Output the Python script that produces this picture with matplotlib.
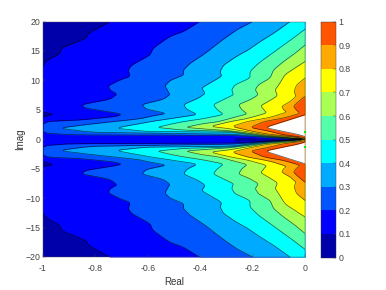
import matplotlib
matplotlib.use('Agg')
import matplotlib.pyplot as plt
from matplotlib.colors import ListedColormap, BoundaryNorm
from matplotlib.cm import ScalarMappable
import numpy as np

plt.rcParams['font.family'] = ['Liberation Sans', 'DejaVu Sans']

# Colour bands, one for each 0.1 step
band_colors = ['#0000aa', '#0000ff', '#0055ff', '#00aaff', '#00ffff',
               '#55ffaa', '#aaff55', '#ffff00', '#ffaa00', '#ff5500']
levels = [0.0, 0.1, 0.2, 0.3, 0.4, 0.5, 0.6, 0.7, 0.8, 0.9, 1.0]
level_labels = ['0', '0.1', '0.2', '0.3', '0.4', '0.5', '0.6', '0.7', '0.8', '0.9', '1']

# Level crossings: the plot is mirrored about Imag = 0
imag_01 = [0, 3.6, 3.8, 4.3, 4.6, 4.8, 13, 14.6, 15.5, 17.2, 18, 20]
real_01 = [-1.05, -1.05, -1, -0.96, -1, -1.05, -1, -0.935, -0.93, -0.834, -0.827, -0.745]

imag_02 = [0, 0.15, 0.3, 0.5, 0.65, 0.76, 3.0, 3.3, 3.9, 4.3, 5.3, 5.9, 6.8, 7.7, 8.4, 9.1, 10.1, 10.7, 11.8, 12.6, 14.3, 15.5, 17.5, 18.3, 20]
real_02 = [0, -0.082, -0.145, -0.21, -0.286, -1, -1, -0.85, -0.72, -0.70, -0.84, -0.853, -0.745, -0.717, -0.745, -0.751, -0.706, -0.668, -0.675, -0.662, -0.592, -0.58, -0.516, -0.464, -0.403]

imag_03 = [0, 0.2, 0.36, 0.62, 0.85, 1.05, 1.2, 1.9, 2.58, 3.48, 3.9, 4.4, 5.1, 5.9, 6.8, 7.6, 8.1, 9.1, 10.0, 10.9, 11.8, 12.9, 14.6, 16.6, 18.6, 20]
real_03 = [0, -0.082, -0.145, -0.21, -0.286, -0.63, -0.82, -0.94, -0.82, -0.63, -0.59, -0.528, -0.605, -0.624, -0.541, -0.516, -0.522, -0.535, -0.515, -0.464, -0.464, -0.439, -0.381, -0.324, -0.261, -0.2]

imag_04 = [0, 0.25, 0.42, 0.75, 1.2, 1.33, 1.44, 1.9, 3.0, 3.6, 4.2, 5.1, 5.9, 7.0, 7.8, 8.7, 9.25, 10.7, 11.5, 12.6, 14.1, 15.2, 16.6, 18, 20]
real_04 = [0, -0.082, -0.145, -0.21, -0.286, -0.6, -0.63, -0.725, -0.59, -0.5, -0.41, -0.451, -0.464, -0.407, -0.381, -0.394, -0.375, -0.318, -0.324, -0.311, -0.261, -0.216, -0.171, -0.12, -0.057]

imag_05 = [0, 0.3, 0.5, 0.88, 1.33, 1.55, 2.0, 2.5, 3.0, 3.5, 4.2, 5.1, 5.9, 7.0, 7.55, 8.4, 9.25, 10.4, 11.5, 12.9, 14.35, 16, 17.2, 18.7]
real_05 = [0, -0.082, -0.145, -0.21, -0.286, -0.464, -0.566, -0.52, -0.464, -0.388, -0.31, -0.337, -0.35, -0.299, -0.273, -0.28, -0.267, -0.21, -0.21, -0.178, -0.133, -0.082, -0.044, 0]

imag_06 = [0, 0.37, 0.6, 1.0, 1.44, 1.67, 2.0, 2.57, 3.0, 3.6, 4.3, 5.0, 5.9, 6.7, 7.55, 8.4, 9.25, 10.4, 11.8, 13.2, 14.6, 16]
real_06 = [0, -0.082, -0.145, -0.21, -0.286, -0.362, -0.458, -0.4, -0.33, -0.28, -0.22, -0.241, -0.254, -0.21, -0.178, -0.19, -0.178, -0.133, -0.12, -0.082, -0.038, 0]

imag_07 = [0, 0.3, 0.48, 0.7, 1.2, 1.78, 2.18, 3.0, 3.5, 4.44, 5.1, 5.7, 6.6, 7.4, 8.4, 9.25, 11, 12.1, 13.2]
real_07 = [0, -0.032, -0.082, -0.145, -0.21, -0.286, -0.362, -0.286, -0.222, -0.146, -0.159, -0.169, -0.133, -0.105, -0.114, -0.1, -0.076, -0.038, 0]

imag_08 = [0, 0.37, 0.6, 0.88, 1.44, 2.18, 3.0, 3.7, 4.6, 5.0, 5.6, 6.4, 7.3, 8.1, 9.25, 10.4]
real_08 = [0, -0.032, -0.082, -0.145, -0.21, -0.28, -0.222, -0.135, -0.07, -0.082, -0.089, -0.057, -0.034, -0.042, -0.032, 0]

imag_09 = [0, 0.3, 0.48, 0.76, 1.44, 2.0, 3.0, 3.6, 4.4, 5.0, 5.6, 6.4, 7.3]
real_09 = [0, -0.005, -0.032, -0.082, -0.145, -0.21, -0.158, -0.082, -0.019, -0.034, -0.044, -0.025, 0]

imag_10 = [0, 0.48, 0.88, 1.33, 2.0, 3.0, 4.16]
real_10 = [0, 0, -0.032, -0.082, -0.153, -0.082, 0]

# Dark core along Imag = 0, half width against Real
core_real = [-0.27, -0.2, -0.1, 0]
core_half = [0.3, 0.3, 0.2, 0.03]

# Two small green marks on the right edge
mark_imag = [1.3, -1.3]
mark_real = [0, 0]

crossings = [(imag_01, real_01, band_colors[1]),
             (imag_02, real_02, band_colors[2]),
             (imag_03, real_03, band_colors[3]),
             (imag_04, real_04, band_colors[4]),
             (imag_05, real_05, band_colors[5]),
             (imag_06, real_06, band_colors[6]),
             (imag_07, real_07, band_colors[7]),
             (imag_08, real_08, band_colors[8]),
             (imag_09, real_09, band_colors[9]),
             (imag_10, real_10, 'white')]


def smooth(x, y, rounds=2, cut=0.15):
    # corner cutting, only rounds off the drawn curve
    for _ in range(rounds):
        qx = (1-cut)*x[:-1] + cut*x[1:]
        rx = cut*x[:-1] + (1-cut)*x[1:]
        qy = (1-cut)*y[:-1] + cut*y[1:]
        ry = cut*y[:-1] + (1-cut)*y[1:]
        x = np.concatenate([x[:1], np.column_stack([qx, rx]).ravel(), x[-1:]])
        y = np.concatenate([y[:1], np.column_stack([qy, ry]).ravel(), y[-1:]])
    return x, y


fig = plt.figure(figsize=(3.86, 2.9), dpi=100)
ax = fig.add_axes([43/386, 1-257/290, 262/386, 235.5/290])
ax.set_facecolor(band_colors[0])

# Mirror each crossing curve and fill from it to the right edge
for imag, real, color in crossings:
    i = np.array(imag)
    r = np.array(real)
    y = np.concatenate([-i[::-1], i[1:]])
    x = np.concatenate([r[::-1], r[1:]])
    x, y = smooth(x, y)
    ax.fill_betweenx(y, x, 0, color=color, linewidth=0)
    ax.plot(x, y, color='black', lw=0.5, alpha=0.65)

ax.fill_between(core_real, -np.array(core_half), core_half, color=band_colors[0], linewidth=0)

ax.set_xlim(-1, 0)
ax.set_ylim(-20, 20)
ax.set_xticks([-1, -0.8, -0.6, -0.4, -0.2, 0])
ax.set_xticklabels(['-1', '-0.8', '-0.6', '-0.4', '-0.2', '0'])
ax.set_yticks(np.arange(-20, 21, 5))
ax.tick_params(direction='in', length=2, width=0.3, labelsize=6.3, colors='#444444', pad=2)
ax.tick_params(axis='x', pad=5)
for s in ax.spines.values():
    s.set_linewidth(0.3)
    s.set_color('#555555')
ax.set_xlabel('Real', fontsize=7, color='#333333', labelpad=3)
ax.set_ylabel('Imag', fontsize=7, color='#333333', labelpad=0)

ax.scatter(mark_real, mark_imag, s=4, color='#00ee00', marker='s', linewidths=0, clip_on=False, zorder=5)

# Colour bar
cax = fig.add_axes([321/386, 1-257.5/290, 14.7/386, 235.8/290])
sm = ScalarMappable(norm=BoundaryNorm(levels, 10), cmap=ListedColormap(band_colors))
cb = fig.colorbar(sm, cax=cax, ticks=levels, spacing='proportional')
cb.ax.set_yticklabels(level_labels)
cb.ax.tick_params(direction='in', length=2, width=0.3, labelsize=6.3, colors='#444444', pad=2)
cb.outline.set_linewidth(0.3)
cb.outline.set_edgecolor('#333333')

fig.savefig('out.png', dpi=100)
